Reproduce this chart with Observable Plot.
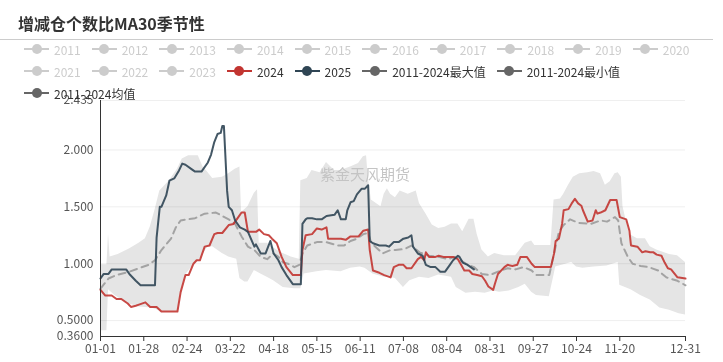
<!DOCTYPE html>
<html>
<head>
<meta charset="utf-8">
<script src="https://cdn.jsdelivr.net/npm/d3@7"></script>
<script src="https://cdn.jsdelivr.net/npm/@observablehq/plot@0.6"></script>
<style>
  body { margin: 0; background: #fff; font-family: "Noto Sans CJK SC", "Open Sans", sans-serif; }
  #wrap { position: relative; width: 723px; height: 362px; overflow: hidden; }
  #chart { position: absolute; left: 0; top: 0; }
  #title { position: absolute; left: 18px; top: 11px; font-size: 16px; font-weight: bold; color: #333; white-space: nowrap; }
  #sep { position: absolute; left: 0; top: 39px; width: 713px; height: 1px; background: #ccc; }
  .row { position: absolute; left: 24px; display: flex; gap: 11px; align-items: center; height: 16px; }
  .item { display: flex; align-items: center; font-size: 12px; white-space: nowrap; }
  .sym { position: relative; width: 25px; height: 14px; margin-right: 5px; }
  .sym .ln { position: absolute; left: 0; top: 6px; width: 25px; height: 2px; }
  .sym .dot { position: absolute; left: 7.5px; top: 2px; width: 10px; height: 10px; border-radius: 50%; }
</style>
</head>
<body>
<div id="wrap">
  <div id="chart"></div>
  <div id="title">增减仓个数比MA30季节性</div>
  <div id="sep"></div>
  <div id="legend"></div>
</div>
<script>
// ---- tick labels / categories ----
const xTickLabels = ["01-01","01-28","02-24","03-22","04-18","05-15","06-11","07-08","08-04","08-31","09-27","10-24","11-20","12-31"];
const yTickValues = [0.36, 0.5, 1.0, 1.5, 2.0, 2.435];
const yTickLabels = ["0.3600","0.5000","1.000","1.500","2.000","2.435"];
const gridValues = [0.5, 1.0, 1.5, 2.0, 2.435];

// ---- legend ----
const legendRow1 = ["2011","2012","2013","2014","2015","2016","2017","2018","2019","2020"];
const legendRow2 = ["2021","2022","2023","2024","2025","2011-2024最大值","2011-2024最小值"];
const legendRow3 = ["2011-2024均值"];
const activeColors = {"2024": "#c23531", "2025": "#2f4554", "2011-2024最大值": "#666", "2011-2024最小值": "#666", "2011-2024均值": "#666"};

// ---- series (x = day of year, 0 = 01-01, 365 = 12-31) ----
const days2025 = [0,2,5,7,16,18,22,25,34,35,37,38,41,43,46,49,51,53,57,59,63,67,69,71,73,75,76,77,79,80,82,84,87,90,92,96,97,100,103,106,108,111,113,116,120,125,126,128,129,132,135,138,141,146,148,150,153,154,156,158,160,163,165,167,168,170,174,178,180,183,186,189,192,194,195,198,201,203,206,209,212,215,218,220,223,224,226,229,231,233];
const vals2025 = [0.87,0.91,0.91,0.95,0.95,0.91,0.85,0.81,0.81,1.23,1.50,1.50,1.60,1.73,1.75,1.82,1.88,1.87,1.83,1.81,1.81,1.89,1.96,2.07,2.14,2.15,2.21,2.21,1.64,1.50,1.47,1.38,1.32,1.30,1.28,1.15,1.17,1.09,1.09,1.20,1.09,1.03,0.97,0.90,0.82,0.82,1.35,1.39,1.40,1.40,1.39,1.39,1.42,1.43,1.47,1.39,1.39,1.47,1.54,1.55,1.61,1.66,1.66,1.69,1.20,1.18,1.16,1.16,1.15,1.19,1.19,1.22,1.23,1.25,1.15,1.09,1.07,0.99,0.97,0.97,0.93,0.93,0.99,1.03,1.07,1.06,1.01,0.99,0.97,0.95];

const days2024 = [0,3,7,10,13,17,19,22,24,28,31,35,38,48,50,53,55,58,60,62,65,68,71,73,76,80,83,86,88,90,92,97,99,102,105,107,110,113,116,120,125,126,128,132,135,138,141,142,150,153,156,161,164,167,168,170,174,177,181,183,186,189,191,194,198,200,202,203,205,209,211,214,220,223,225,227,230,232,235,238,240,242,245,246,248,252,254,257,260,262,266,269,271,281,283,284,286,288,289,292,294,296,298,300,301,304,307,309,310,312,315,318,322,324,328,330,331,335,338,340,343,345,347,350,352,354,356,360,365];
const vals2024 = [0.77,0.72,0.72,0.69,0.69,0.65,0.62,0.63,0.64,0.66,0.62,0.62,0.58,0.58,0.75,0.90,0.90,1.00,1.03,1.03,1.15,1.16,1.26,1.27,1.27,1.34,1.35,1.41,1.45,1.45,1.28,1.28,1.30,1.26,1.25,1.22,1.18,1.06,0.97,0.90,0.90,1.12,1.25,1.26,1.31,1.30,1.32,1.22,1.22,1.21,1.24,1.24,1.29,1.30,1.12,0.94,0.92,0.90,0.88,0.97,0.99,0.99,0.96,0.96,1.04,1.06,1.03,1.10,1.06,1.06,1.07,1.06,1.06,1.04,0.99,0.94,0.94,0.91,0.90,0.89,0.85,0.80,0.77,0.82,0.91,0.97,0.99,0.98,0.99,1.06,1.06,1.00,0.97,0.97,1.09,1.20,1.22,1.35,1.47,1.48,1.53,1.57,1.53,1.51,1.47,1.37,1.38,1.47,1.44,1.45,1.47,1.56,1.56,1.41,1.39,1.29,1.16,1.15,1.10,1.11,1.10,1.10,1.08,1.07,1.01,0.96,0.95,0.88,0.87];

const daysAvg = [0,5,10,18,24,30,34,38,44,47,50,54,59,65,72,76,80,84,88,92,96,100,104,108,111,114,117,121,124,126,129,135,141,148,152,156,160,164,167,169,173,176,181,184,190,194,199,205,211,217,221,228,233,238,243,248,254,259,264,269,272,280,283,286,289,293,298,306,312,316,321,323,325,329,332,337,342,348,353,360,365];
const valsAvg = [0.78,0.87,0.90,0.93,0.96,0.99,1.03,1.12,1.22,1.32,1.38,1.39,1.40,1.44,1.45,1.42,1.39,1.35,1.24,1.15,1.12,1.06,1.04,1.09,1.06,1.01,1.00,0.97,0.99,1.09,1.16,1.19,1.19,1.16,1.16,1.20,1.22,1.26,1.27,1.18,1.13,1.09,1.12,1.12,1.13,1.16,1.10,1.07,1.06,1.04,1.06,1.00,0.97,0.91,0.90,0.93,0.96,0.95,0.97,0.94,0.90,0.90,1.09,1.28,1.34,1.39,1.36,1.35,1.38,1.37,1.41,1.38,1.18,1.06,1.00,0.98,0.97,0.94,0.88,0.85,0.81];

const daysMax = [0,4,5,6,11,18,24,28,31,34,37,43,48,51,55,61,64,66,70,76,80,84,87,88,92,96,98,99,104,112,119,124,125,129,132,137,141,146,150,156,161,164,166,167,169,175,177,179,181,184,187,192,197,199,203,207,211,215,219,223,226,230,233,235,238,242,246,252,259,265,269,271,281,283,287,289,292,295,299,304,308,312,315,318,321,323,325,326,330,335,340,343,347,351,355,360,365];
const valsMax = [0.99,0.99,1.26,1.06,1.08,1.13,1.18,1.22,1.32,1.47,1.64,1.73,1.83,1.92,1.95,1.95,1.85,1.82,1.75,1.76,1.79,1.83,1.85,1.45,1.50,1.62,1.65,1.18,1.18,1.10,1.06,1.04,1.73,1.75,1.82,1.80,1.89,1.82,1.82,1.85,1.88,1.94,1.95,1.77,1.56,1.50,1.61,1.66,1.61,1.58,1.64,1.61,1.64,1.53,1.44,1.34,1.31,1.32,1.35,1.35,1.28,1.39,1.39,1.26,1.12,1.06,1.09,1.07,1.07,1.18,1.20,1.16,1.16,1.56,1.57,1.61,1.69,1.76,1.79,1.80,1.81,1.79,1.69,1.72,1.79,1.80,1.76,1.50,1.26,1.22,1.22,1.15,1.12,1.10,1.08,1.07,1.01];

const daysMin = [0,4,5,9,17,24,32,38,48,50,53,57,63,67,70,76,80,85,87,90,92,96,100,104,108,114,121,125,127,135,141,150,156,162,165,170,177,181,184,189,193,199,205,211,219,222,228,234,240,245,249,255,261,265,269,272,280,283,284,289,294,297,301,308,316,323,324,331,337,343,349,355,361,365];
const valsMin = [0.41,0.41,0.77,0.72,0.65,0.62,0.61,0.58,0.58,0.75,0.90,0.97,1.06,1.15,1.15,1.09,1.06,1.04,0.87,0.84,0.84,0.94,0.91,0.88,0.85,0.79,0.78,0.78,0.91,0.93,0.94,0.93,0.96,0.97,0.96,0.91,0.88,0.88,0.87,0.79,0.85,0.88,0.87,0.90,0.88,0.79,0.74,0.75,0.74,0.76,0.75,0.76,0.79,0.82,0.75,0.72,0.71,0.90,0.97,0.99,1.01,0.97,0.96,0.97,0.98,1.01,0.81,0.77,0.72,0.68,0.61,0.59,0.56,0.55];

const watermark = "紫金天风期货";

// ---- build tables ----
const zip = (xs, ys) => xs.map((x, i) => ({x, y: ys[i]}));
const s2025 = zip(days2025, vals2025);
const s2024 = zip(days2024, vals2024);
const sAvg = zip(daysAvg, valsAvg);
const sMax = zip(daysMax, valsMax);
const sMin = zip(daysMin, valsMin);
const base = yTickValues[0];

const dayIndex = s => {
  const [m, d] = s.split("-").map(Number);
  return d3.utcDay.count(new Date(Date.UTC(2024, 0, 1)), new Date(Date.UTC(2024, m - 1, d)));
};
const xTickValues = xTickLabels.map(dayIndex);
const xFmt = new Map(xTickValues.map((v, i) => [v, xTickLabels[i]]));
const yFmt = new Map(yTickValues.map((v, i) => [v, yTickLabels[i]]));

const chart = Plot.plot({
  width: 723,
  height: 362,
  marginTop: 100,
  marginBottom: 26,
  marginLeft: 100,
  marginRight: 38,
  style: {fontFamily: '"Noto Sans CJK SC", sans-serif', fontSize: "12px", background: "transparent"},
  x: {type: "linear", domain: [0, 365]},
  y: {type: "linear", domain: [base, 2.435]},
  marks: [
    Plot.areaY(sMax, {x: "x", y1: base, y2: "y", fill: "#e5e5e5"}),
    Plot.areaY(sMin, {x: "x", y1: base, y2: "y", fill: "#ffffff"}),
    Plot.ruleY(gridValues, {stroke: "#efefef", strokeWidth: 1, mixBlendMode: "multiply"}),
    Plot.text([watermark], {frameAnchor: "top", dx: -28, dy: 75, fontSize: 15, fill: "#c4c4c4", lineAnchor: "middle"}),
    Plot.line(sAvg, {x: "x", y: "y", stroke: "#a3a3a3", strokeWidth: 2, strokeDasharray: "7,5"}),
    Plot.line(s2024, {x: "x", y: "y", stroke: "#c23531", strokeWidth: 2, strokeOpacity: 0.9}),
    Plot.line(s2025, {x: "x", y: "y", stroke: "#2f4554", strokeWidth: 2, strokeOpacity: 0.9}),
    Plot.ruleY([base], {stroke: "#333", strokeWidth: 1}),
    Plot.ruleX([0], {stroke: "#333", strokeWidth: 1}),
    Plot.axisX({ticks: xTickValues, tickFormat: v => xFmt.get(v), tickSize: 5, tickPadding: 3, stroke: "#333", color: "#555", fontSize: 12, label: null}),
    Plot.axisY({ticks: yTickValues, tickFormat: v => yFmt.get(v), tickSize: 0, tickPadding: 7, color: "#555", fontSize: 12, label: null})
  ]
});
document.getElementById("chart").appendChild(chart);

// ---- legend ----
function makeRow(labels, top) {
  const row = document.createElement("div");
  row.className = "row";
  row.style.top = top + "px";
  labels.forEach(lab => {
    const col = activeColors[lab];
    const c = col || "#ccc";
    const item = document.createElement("div");
    item.className = "item";
    item.style.color = col ? "#333" : "#ccc";
    item.innerHTML = `<span class="sym"><span class="ln" style="background:${c}"></span><span class="dot" style="background:${c}"></span></span><span>${lab}</span>`;
    row.appendChild(item);
  });
  document.getElementById("legend").appendChild(row);
}
makeRow(legendRow1, 41);
makeRow(legendRow2, 63);
makeRow(legendRow3, 85);
</script>
</body>
</html>
